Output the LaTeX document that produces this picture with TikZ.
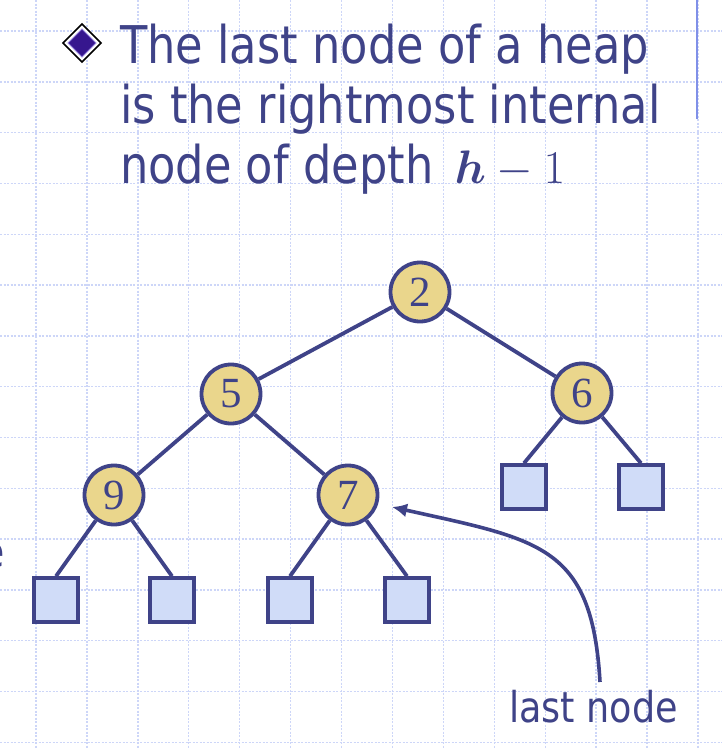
\RequirePackage{fix-cm}
\documentclass[tikz,border=0pt]{standalone}
\usepackage[no-math]{fontspec}
\usepackage{bm}
\setmainfont{DejaVu Sans}[FakeStretch=0.86]
\newfontfamily\numfont{Liberation Serif}
\usetikzlibrary{arrows.meta}
\definecolor{ink}{RGB}{63,67,136}
\definecolor{circfill}{RGB}{234,214,140}
\definecolor{leaffill}{RGB}{208,220,248}
\definecolor{gridblue}{RGB}{205,214,248}
\definecolor{barblue}{RGB}{128,144,232}
\definecolor{bulletfill}{RGB}{54,22,142}
\definecolor{bulletedge}{RGB}{150,130,220}
\tikzset{
  gridline/.style={draw=gridblue, line width=1.4pt, dash pattern=on 2pt off 1.5pt},
  titletext/.style={inner sep=0pt, anchor=base west, text=ink, font=\fontsize{52}{60}\selectfont},
  lbltext/.style={inner sep=0pt, anchor=base west, text=ink, font=\fontsize{42.5}{48}\selectfont},
  circnode/.style={circle, draw=ink, line width=3.8pt, fill=circfill, minimum size=59pt, inner sep=0pt, text=ink, font=\numfont\fontsize{43}{43}\selectfont},
  leafnode/.style={rectangle, draw=ink, line width=3.6pt, fill=leaffill, minimum size=44pt, inner sep=0pt},
  treeedge/.style={draw=ink, line width=3.8pt},
  pointer/.style={draw=ink, line width=3.6pt, -{Latex[length=15pt,width=14pt]}}
}
\begin{document}
\begin{tikzpicture}[x=1pt,y=-1pt]
\useasboundingbox (0,0) rectangle (722,748);
\fill[white] (0,0) rectangle (722,748);
% grid
\foreach \i in {0,...,13} \draw[gridline] ({36+50.92*\i},0) -- ({36+50.92*\i},748);
\foreach \j in {0,...,14} \draw[gridline] (0,{31+50.8*\j}) -- (722,{31+50.8*\j});
% right bar
\draw[barblue, line width=2pt] (697,0) -- (697,119);
% bullet
\draw[black, line width=1.6pt, fill=white] (82,24) -- (101,43) -- (82,62) -- (63,43) -- cycle;
\draw[bulletedge, line width=1pt, fill=bulletfill] (82,29) -- (96,43) -- (82,57) -- (68,43) -- cycle;
% title
\node[titletext] (t1) at (120,63) {The last node of a heap};
\node[titletext] (t2) at (120,123) {is the rightmost internal};
\node[titletext] (t3) at (120,183) {node of depth \kern7pt{\fontsize{47}{50}\selectfont$\bm{h}-1$}};
% fragment at left edge
\node[titletext, anchor=base east, font=\fontsize{44}{50}\selectfont] (frag) at (5,567) {e};
% tree nodes
\node[circnode] (n2) at (420,292) {2};
\node[circnode] (n5) at (231,394) {5};
\node[circnode] (n6) at (582,393) {6};
\node[circnode] (n9) at (114,495) {9};
\node[circnode] (n7) at (348,495) {7};
\node[leafnode] (la) at (56,600) {};
\node[leafnode] (lb) at (172,600) {};
\node[leafnode] (lc) at (290,600) {};
\node[leafnode] (ld) at (407,600) {};
\node[leafnode] (le) at (524,487) {};
\node[leafnode] (lf) at (641,487) {};
% edges
\draw[treeedge] (n2) -- (n5);
\draw[treeedge] (n2) -- (n6);
\draw[treeedge] (n5) -- (n9);
\draw[treeedge] (n5) -- (n7);
\draw[treeedge] (n9) -- (la.north);
\draw[treeedge] (n9) -- (lb.north);
\draw[treeedge] (n7) -- (lc.north);
\draw[treeedge] (n7) -- (ld.north);
\draw[treeedge] (n6) -- (le.north);
\draw[treeedge] (n6) -- (lf.north);
% last node label and pointer
\node[lbltext] (lastlbl) at (509,722) {last node};
\coordinate (src) at (600,682);
\coordinate (tip) at (392,507);
\draw[pointer] (src) .. controls (592,545) and (540,540) .. (tip);
\end{tikzpicture}
\end{document}
